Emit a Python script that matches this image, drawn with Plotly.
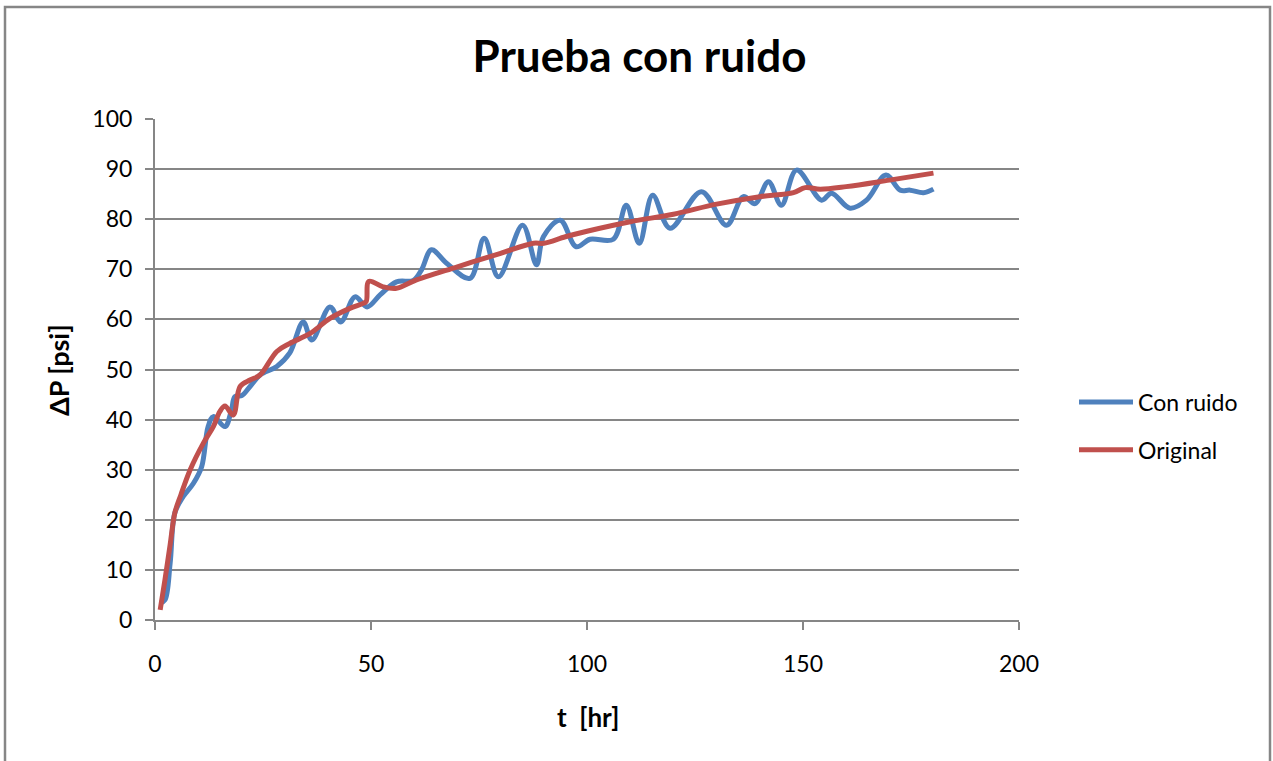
import plotly.graph_objects as go

# Noisy pressure response (t in hr, ΔP in psi)
t_ruido = [1.2, 2.3, 3.5, 4.6, 6.5, 8.9, 10.8, 12.3, 13.5, 16.2, 17.7, 18.5, 20.1, 22.0,
           24.3, 28.2, 31.2, 34.3, 36.3, 40.5, 43.0, 46.3, 49.1, 52.1, 55.9, 59.8, 61.7,
           64.0, 67.5, 72.9, 76.2, 79.5, 85.1, 88.3, 89.9, 93.8, 97.5, 100.7, 106.1,
           109.1, 112.1, 115.2, 119.2, 126.5, 132.3, 136.2, 138.9, 142.0, 145.0, 148.5,
           154.3, 156.6, 160.9, 164.7, 169.2, 172.5, 174.8, 177.9, 180.2]
p_ruido = [3.4, 4.0, 11.3, 21.4, 24.6, 27.3, 30.6, 38.6, 40.6, 38.6, 41.9, 44.6, 44.8, 46.6,
           48.9, 50.6, 53.3, 59.5, 55.9, 62.5, 59.5, 64.5, 62.5, 64.9, 67.5, 67.8, 69.9,
           73.9, 71.2, 68.2, 76.2, 68.5, 78.8, 70.9, 76.5, 79.8, 74.5, 76.0, 76.0,
           82.8, 75.2, 84.8, 78.2, 85.5, 78.8, 84.5, 83.1, 87.5, 82.8, 89.8,
           83.8, 85.2, 82.2, 83.8, 88.8, 85.8, 85.8, 85.3, 86.0]

# Original (noise-free) response
t_orig = [1.2, 2.3, 3.5, 4.6, 6.0, 8.1, 11.2, 13.5, 15.0, 16.2, 18.1, 19.7, 22.0, 24.3,
          28.2, 31.2, 35.9, 40.5, 45.1, 48.2, 48.9, 49.5, 52.8, 55.9, 60.0, 70.0, 80.0,
          87.6, 90.0, 95.0, 100.0, 110.0, 120.0, 130.0, 140.0, 147.8, 150.5, 154.0,
          160.0, 170.0, 180.2]
p_orig = [2.0, 8.0, 15.0, 21.4, 25.0, 29.9, 35.3, 38.6, 41.6, 42.7, 40.9, 46.6, 47.9, 48.9,
          53.6, 55.2, 57.2, 60.2, 62.2, 63.2, 63.6, 67.6, 66.5, 66.2, 67.7, 70.5, 73.2,
          75.2, 75.2, 76.5, 77.6, 79.5, 81.0, 83.0, 84.5, 85.3, 86.3, 86.0,
          86.5, 87.8, 89.2]

y_ticks = [0, 10, 20, 30, 40, 50, 60, 70, 80, 90, 100]
x_ticks = [0, 50, 100, 150, 200]

FONT = "Lato"
GRID = "#868686"

fig = go.Figure()
fig.add_trace(go.Scatter(
    x=t_ruido, y=p_ruido, name="Con ruido", mode="lines",
    line=dict(color="#4F81BD", width=5, shape="spline", smoothing=1.0),
    legendgroup="a",
))
fig.add_trace(go.Scatter(
    x=t_orig, y=p_orig, name="Original", mode="lines",
    line=dict(color="#C0504D", width=5, shape="spline", smoothing=1.0),
    legendgroup="b",
))

# plot area in pixels: x 155..1019, y 119..620
L, R, T, B = 155, 1019, 119, 620
W, H = 1273, 761
pw, ph = R - L, B - T

def px_x(p):
    return (p - L) / pw

def px_y(p):
    return (B - p) / ph

fig.update_layout(
    width=W, height=H,
    margin=dict(l=L, r=W - R, t=T, b=H - B),
    paper_bgcolor="white", plot_bgcolor="white",
    font=dict(family=FONT, color="black", size=23),
    title=dict(text="<b>Prueba con ruido</b>", x=639.5 / W, xanchor="center",
               y=1 - 57 / H, yanchor="middle", yref="container",
               font=dict(family=FONT, size=44, color="black")),
    showlegend=True,
    legend=dict(x=px_x(1074), y=px_y(426), xanchor="left", yanchor="middle",
                traceorder="grouped", tracegroupgap=15, itemwidth=54,
                font=dict(family=FONT, size=23, color="black"),
                bgcolor="rgba(0,0,0,0)"),
    xaxis=dict(range=[0, 200], tickvals=x_ticks, showgrid=False, zeroline=False,
               showline=True, linecolor=GRID, linewidth=2,
               ticks="outside", ticklen=8, tickwidth=2, tickcolor=GRID,
               ticklabelstandoff=14, tickfont=dict(size=23)),
    yaxis=dict(range=[0, 100], tickvals=y_ticks, showgrid=True, gridcolor=GRID,
               gridwidth=2, zeroline=False,
               showline=True, linecolor=GRID, linewidth=2,
               ticks="outside", ticklen=8, tickwidth=2, tickcolor=GRID,
               ticklabelstandoff=8, tickfont=dict(size=23)),
    annotations=[
        dict(text="<b>t  [hr]</b>", x=px_x(588), y=px_y(717), xref="paper", yref="paper",
             showarrow=False, xanchor="center", yanchor="middle",
             font=dict(family=FONT, size=26, color="black")),
        dict(text="<b>ΔP [psi]</b>", x=px_x(58), y=px_y(370), xref="paper", yref="paper",
             showarrow=False, xanchor="center", yanchor="middle", textangle=-90,
             font=dict(family=FONT, size=27, color="black")),
    ],
    shapes=[
        dict(type="rect", xref="paper", yref="paper",
             x0=px_x(5), x1=px_x(1270), y0=px_y(7), y1=px_y(775),
             line=dict(color=GRID, width=2.5), fillcolor="rgba(0,0,0,0)", layer="below"),
    ],
)

fig.write_html("out.html")
